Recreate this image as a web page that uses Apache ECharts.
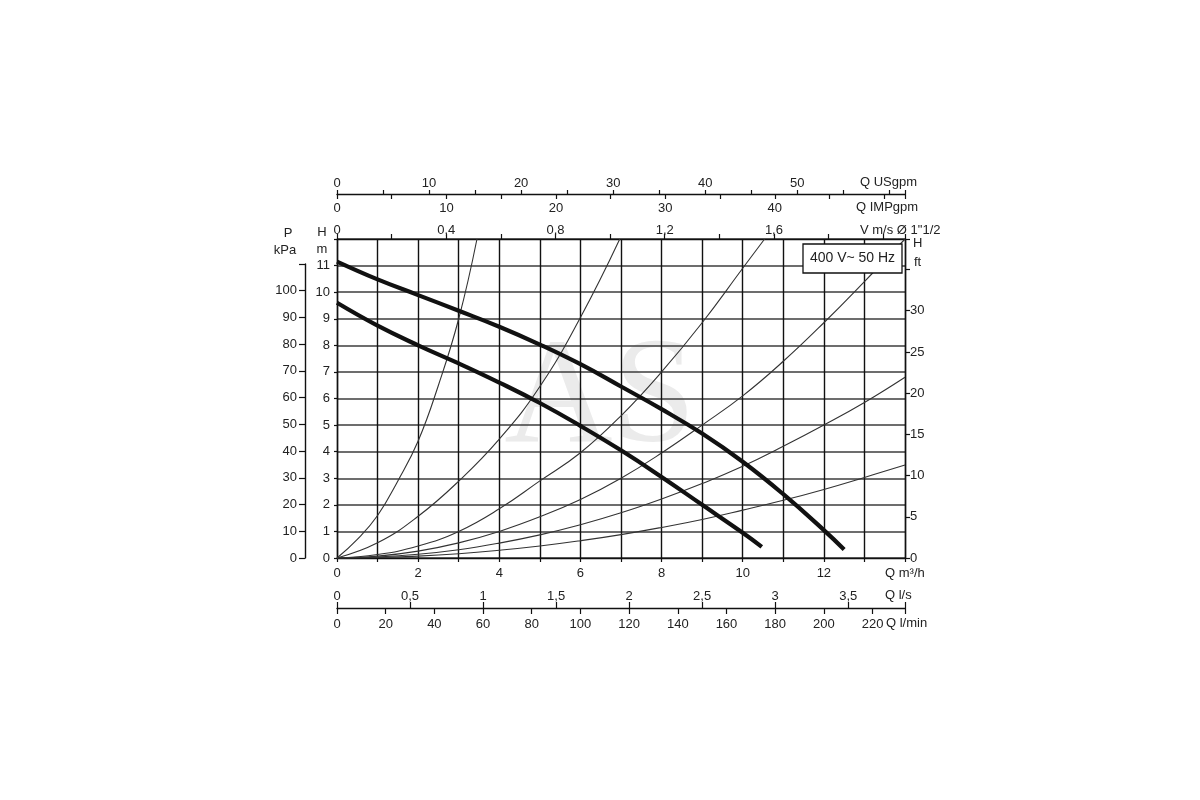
<!DOCTYPE html>
<html>
<head>
<meta charset="utf-8">
<script src="https://cdn.jsdelivr.net/npm/echarts@6/dist/echarts.min.js"></script>
<style>
html,body{margin:0;padding:0;background:#fff;}
#chart{width:1200px;height:800px;}
</style>
</head>
<body>
<div id="chart"></div>
<script>
// ---- Pump curves (Q m³/h, H m) ----
const pumpHighQ = [0, 1, 2, 3, 4, 5, 6, 7, 8, 9, 10, 11, 12, 12.5];
const pumpHighH = [11.15, 10.48, 9.89, 9.3, 8.7, 8.03, 7.29, 6.45, 5.6, 4.68, 3.62, 2.4, 1.05, 0.32];
const pumpLowQ  = [0, 1, 2, 3, 4, 5, 6, 7, 8, 9, 10, 10.47];
const pumpLowH  = [9.6, 8.74, 8.0, 7.32, 6.6, 5.83, 4.97, 4.05, 3.05, 2.0, 0.95, 0.42];

// ---- System curves (thin) ----
const sysAQ = [0, 0.5, 1, 1.5, 2, 2.5, 3, 3.45];
const sysAH = [0, 0.7, 1.6, 2.9, 4.4, 6.5, 9.0, 12.0];
const sysBQ = [0, 1, 2, 3, 4, 5, 6, 6.97];
const sysBH = [0, 0.57, 1.57, 2.89, 4.47, 6.45, 9.05, 12.0];
const sysCQ = [0, 1, 2, 3, 4, 5, 6, 7, 8, 9, 10, 10.54];
const sysCH = [0, 0.13, 0.45, 1.0, 1.85, 2.9, 3.96, 5.35, 7.0, 8.85, 10.9, 12.0];
const sysDQ = [0, 1, 2, 3, 4, 5, 6, 7, 8, 9, 10, 11, 12, 13, 14];
const sysDH = [0, 0.07, 0.26, 0.57, 1.0, 1.55, 2.2, 3.0, 3.95, 5.0, 6.1, 7.4, 8.85, 10.4, 12.0];
const sysEQ = [0, 1, 2, 3, 4, 5, 6, 7, 8, 9, 10, 11, 12, 13, 14];
const sysEH = [0, 0.04, 0.14, 0.31, 0.56, 0.87, 1.25, 1.7, 2.22, 2.8, 3.45, 4.2, 5.0, 5.85, 6.8];
const sysFQ = [0, 1, 2, 3, 4, 5, 6, 7, 8, 9, 10, 11, 12, 13, 14];
const sysFH = [0, 0.02, 0.07, 0.16, 0.29, 0.45, 0.65, 0.88, 1.15, 1.45, 1.8, 2.17, 2.58, 3.03, 3.5];

// ---- Axis ranges (as drawn on the sheet) ----
const qMax = 14;        // m³/h
const hMax = 12;        // m
const usgpmMax = 61.7;  // USgpm at qMax
const impgpmMax = 51.9; // IMPgpm at qMax
const lsMax = 14 / 3.6; // l/s at qMax
const lminMax = 14 / 0.06; // l/min at qMax
const vMax = 2.08;      // m/s at qMax (pipe 1"1/2)
const ftMax = 38.7;     // ft at hMax
const kpaMax = 110;     // kPa axis length

const titleTop = ['Q USgpm', 'Q IMPgpm', 'V m/s Ø 1"1/2'];
const titleBottom = ['Q m³/h', 'Q l/s', 'Q l/min'];
const boxText = '400 V~ 50 Hz';

function zip(a, b) { return a.map((v, i) => [v, b[i]]); }
function isMult(v, m) { return Math.abs(v / m - Math.round(v / m)) < 1e-6; }
function comma(v) { return String(Math.round(v * 100) / 100).replace('.', ','); }

const FONT = 'Liberation Sans, Arial, sans-serif';
const TXT = '#222';
const lbl = (extra) => Object.assign({ fontFamily: FONT, fontSize: 13, color: TXT }, extra);
const axLine = (show) => ({ show: show !== false, onZero: false, lineStyle: { color: '#111', width: 1.4 } });
const tick = (len, inside) => ({ show: true, length: len, inside: !!inside, lineStyle: { color: '#111', width: 1.2 } });

const chart = echarts.init(document.getElementById('chart'), null, { renderer: 'canvas' });

const thin = (name, q, h) => ({
  name, type: 'line', xAxisIndex: 0, yAxisIndex: 0, data: zip(q, h),
  smooth: 0.45, symbol: 'none', silent: true, clip: true,
  lineStyle: { color: '#333', width: 1.1 }, z: 3
});
const thick = (name, q, h) => ({
  name, type: 'line', xAxisIndex: 0, yAxisIndex: 0, data: zip(q, h),
  smooth: 0.45, symbol: 'none', silent: true, clip: true,
  lineStyle: { color: '#111', width: 4.2 }, z: 5
});

const txt = (text, x, y, align, size) => ({
  type: 'text', x: x, y: y, z: 50,
  style: { text: text, fontFamily: FONT, fontSize: size || 13, fill: TXT,
           textAlign: align || 'left', align: align || 'left',
           textVerticalAlign: 'middle', verticalAlign: 'middle' }
});

const option = {
  backgroundColor: '#fff',
  animation: false,
  grid: [
    { left: 337, top: 239, width: 568, height: 319, containLabel: false },
    { left: 337, top: 264, width: 568, height: 294, containLabel: false }
  ],
  xAxis: [
    { // Q m³/h (bottom)
      type: 'value', gridIndex: 0, position: 'bottom', min: 0, max: qMax, interval: 1,
      axisLine: axLine(), axisTick: tick(4),
      splitLine: { show: true, lineStyle: { color: '#111', width: 1.4 } },
      axisLabel: lbl({ margin: 9, formatter: v => (isMult(v, 2) && v <= 12) ? String(v) : '' })
    },
    { // V m/s (top border)
      type: 'value', gridIndex: 0, position: 'top', offset: 0, min: 0, max: vMax, interval: 0.2,
      axisLine: axLine(), axisTick: tick(5),
      splitLine: { show: false },
      axisLabel: lbl({ margin: 2, formatter: v => (isMult(v, 0.4) && v < 1.9) ? comma(v) : '' })
    },
    { // USgpm
      type: 'value', gridIndex: 0, position: 'top', offset: 45, min: 0, max: usgpmMax, interval: 5,
      axisLine: axLine(), axisTick: tick(4),
      splitLine: { show: false },
      axisLabel: lbl({ margin: 4, formatter: v => (isMult(v, 10) && v <= 50) ? String(Math.round(v)) : '' })
    },
    { // IMPgpm
      type: 'value', gridIndex: 0, position: 'top', offset: 45, min: 0, max: impgpmMax, interval: 5,
      axisLine: axLine(false), axisTick: tick(5, true),
      splitLine: { show: false },
      axisLabel: lbl({ inside: true, margin: 8, formatter: v => (isMult(v, 10) && v <= 40) ? String(Math.round(v)) : '' })
    },
    { // l/s
      type: 'value', gridIndex: 0, position: 'bottom', offset: 50, min: 0, max: lsMax, interval: 0.5,
      axisLine: axLine(), axisTick: tick(6, true),
      splitLine: { show: false },
      axisLabel: lbl({ inside: true, margin: 5, formatter: v => (isMult(v, 0.5) && v <= 3.5 + 1e-6) ? comma(v) : '' })
    },
    { // l/min
      type: 'value', gridIndex: 0, position: 'bottom', offset: 50, min: 0, max: lminMax, interval: 20,
      axisLine: axLine(false), axisTick: tick(6),
      splitLine: { show: false },
      axisLabel: lbl({ margin: 10, formatter: v => (isMult(v, 20) && v <= 220) ? String(Math.round(v)) : '' })
    },
    { // helper x axis for the kPa grid
      type: 'value', gridIndex: 1, min: 0, max: 1, show: false
    }
  ],
  yAxis: [
    { // H m
      type: 'value', gridIndex: 0, position: 'left', min: 0, max: hMax, interval: 1,
      axisLine: axLine(), axisTick: tick(3),
      splitLine: { show: true, lineStyle: { color: '#3c3c3c', width: 1.6 } },
      axisLabel: lbl({ margin: 7, formatter: v => (v <= 11 && isMult(v, 1)) ? String(v) : '' })
    },
    { // H ft
      type: 'value', gridIndex: 0, position: 'right', min: 0, max: ftMax, interval: 5,
      axisLine: axLine(), axisTick: tick(5),
      splitLine: { show: false },
      axisLabel: lbl({ margin: 5, formatter: v => (isMult(v, 5) && v <= 30) ? String(Math.round(v)) : '' })
    },
    { // P kPa
      type: 'value', gridIndex: 1, position: 'left', offset: 32, min: 0, max: kpaMax, interval: 10,
      axisLine: axLine(), axisTick: tick(6),
      splitLine: { show: false },
      axisLabel: lbl({ margin: 8, formatter: v => (isMult(v, 10) && v <= 100) ? String(Math.round(v)) : '' })
    }
  ],
  series: [
    thin('A', sysAQ, sysAH),
    thin('B', sysBQ, sysBH),
    thin('C', sysCQ, sysCH),
    thin('D', sysDQ, sysDH),
    thin('E', sysEQ, sysEH),
    thin('F', sysFQ, sysFH),
    thick('pump-high', pumpHighQ, pumpHighH),
    thick('pump-low', pumpLowQ, pumpLowH)
  ],
  graphic: [
    { type: 'text', x: 600, y: 402, z: -10, silent: true,
      style: { text: 'AS', fontFamily: 'Liberation Serif, DejaVu Serif, serif', fontSize: 150,
               fill: '#ebebeb', textAlign: 'center', align: 'center',
               textVerticalAlign: 'middle', verticalAlign: 'middle' } },
    txt(titleTop[0], 860, 182.5),
    txt(titleTop[1], 856, 207.5),
    txt(titleTop[2], 860, 230),
    txt(titleBottom[0], 885, 573),
    txt(titleBottom[1], 885, 595),
    txt(titleBottom[2], 886, 623),
    txt('H', 913, 243),
    txt('ft', 914, 262),
    txt('P', 288, 233, 'center'),
    txt('kPa', 285, 250, 'center'),
    txt('H', 322, 232, 'center'),
    txt('m', 322, 249, 'center'),
    { type: 'rect', z: 60, shape: { x: 803, y: 244, width: 99, height: 29 },
      style: { fill: '#fff', stroke: '#111', lineWidth: 1.3 } },
    { type: 'text', x: 852.5, y: 258.5, z: 61,
      style: { text: boxText, fontFamily: FONT, fontSize: 14, fill: TXT,
               textAlign: 'center', align: 'center', textVerticalAlign: 'middle', verticalAlign: 'middle' } }
  ]
};
chart.setOption(option);
</script>
</body>
</html>
